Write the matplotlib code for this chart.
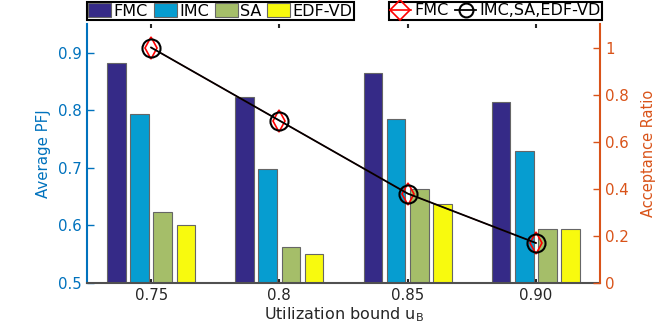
import numpy as np
import matplotlib
matplotlib.use("Agg")
import matplotlib.pyplot as plt
from matplotlib.patches import Patch
from matplotlib.lines import Line2D

# data
bounds = ["0.75", "0.8", "0.85", "0.90"]
methods = ["FMC", "IMC", "SA", "EDF-VD"]
pfj_fmc = [0.883, 0.824, 0.865, 0.815]
pfj_imc = [0.793, 0.698, 0.785, 0.730]
pfj_sa = [0.624, 0.563, 0.664, 0.594]
pfj_edf = [0.601, 0.551, 0.637, 0.594]
acc_fmc = [1.0, 0.69, 0.38, 0.17]
acc_others = [1.0, 0.69, 0.38, 0.17]

bar_colors = ["#352A87", "#069DD0", "#A5BE69", "#F8FA0E"]
blue = "#0072BD"
orange = "#D95319"
dark = "#262626"

plt.rcParams['font.family'] = ['DejaVu Sans']

fig = plt.figure(figsize=(6.64, 3.32), dpi=100)
ax = fig.add_axes([87/664, 1-283/332, (600-87)/664, (283-24)/332])
ax2 = ax.twinx()

x = np.arange(len(bounds))
w = 0.145
step = 0.181
for i, vals in enumerate([pfj_fmc, pfj_imc, pfj_sa, pfj_edf]):
    ax.bar(x + (i - 1.5)*step, vals, width=w, color=bar_colors[i],
           edgecolor="#666666", linewidth=0.8, zorder=2)

ax.set_xlim(-0.5, 3.5)
ax.set_ylim(0.5, 0.95)
ax.set_yticks([0.5, 0.6, 0.7, 0.8, 0.9])
ax.set_yticklabels(["0.5", "0.6", "0.7", "0.8", "0.9"])
ax.set_xticks(x)
ax.set_xticklabels(bounds)
ax.set_xlabel("Utilization bound u$_\\mathregular{B}$", fontsize=11.5, color=dark, labelpad=2)
ax.set_ylabel("Average PFJ", fontsize=10.8, color=blue, labelpad=5)

ax.tick_params(axis='y', colors=blue, direction='in', length=5, width=1, labelsize=10.8)
ax.tick_params(axis='x', colors=dark, direction='in', length=3, width=1.5, labelsize=10.8, top=True)
ax.spines['top'].set_visible(False)
ax.spines['right'].set_visible(False)
ax.spines['left'].set_color(blue)
ax.spines['left'].set_linewidth(1.5)
ax.spines['bottom'].set_color("#505050")
ax.spines['bottom'].set_linewidth(1.5)
ax.set_zorder(1)
ax.patch.set_visible(False)

# acceptance ratio lines
ax2.plot(x, acc_fmc, color="red", linewidth=0.8, marker="d", markersize=11,
         markerfacecolor="none", markeredgecolor="red", markeredgewidth=1.2)
ax2.plot(x, acc_others, color="black", linewidth=1.3, marker="o", markersize=13,
         markerfacecolor="none", markeredgecolor="black", markeredgewidth=1.5)
ax2.set_zorder(2)
ax2.set_ylim(0, 1.1)
ax2.set_yticks([0, 0.2, 0.4, 0.6, 0.8, 1])
ax2.set_yticklabels(["0", "0.2", "0.4", "0.6", "0.8", "1"])
ax2.set_ylabel("Acceptance Ratio", fontsize=10.5, color=orange, labelpad=9)
ax2.tick_params(axis='y', colors=orange, direction='in', length=5, width=1, labelsize=10.8)
for s in ['top', 'left', 'bottom']:
    ax2.spines[s].set_visible(False)
ax2.spines['right'].set_color(orange)
ax2.spines['right'].set_linewidth(1.5)

# legends at top
bar_handles = [Patch(facecolor=c, edgecolor="#666666", linewidth=0.8) for c in bar_colors]
leg1 = fig.legend(bar_handles, methods, loc='upper left', ncol=4,
                  bbox_to_anchor=(87/664, 1-2/332), borderaxespad=0,
                  fontsize=11.5, frameon=True, fancybox=False, framealpha=1,
                  edgecolor="black", handlelength=1.45, handleheight=0.95,
                  handletextpad=0.15, columnspacing=0.35, borderpad=0.08)
leg1.get_frame().set_linewidth(1.5)

line_handles = [
    Line2D([], [], color="red", linewidth=1.2, marker="D", markersize=10,
           markerfacecolor="none", markeredgecolor="red", markeredgewidth=1.2),
    Line2D([], [], color="black", linewidth=1.3, marker="o", markersize=10,
           markerfacecolor="none", markeredgecolor="black", markeredgewidth=1.5),
]
leg2 = fig.legend(line_handles, ["FMC", "IMC,SA,EDF-VD"], loc='upper right', ncol=2,
                  bbox_to_anchor=(602/664, 1-2/332), borderaxespad=0,
                  fontsize=11.5, frameon=True, fancybox=False, framealpha=1,
                  edgecolor="black", handlelength=1.3,
                  handletextpad=0.2, columnspacing=0.45, borderpad=0.08)
leg2.get_frame().set_linewidth(1.5)

fig.savefig("out.png", dpi=100)
